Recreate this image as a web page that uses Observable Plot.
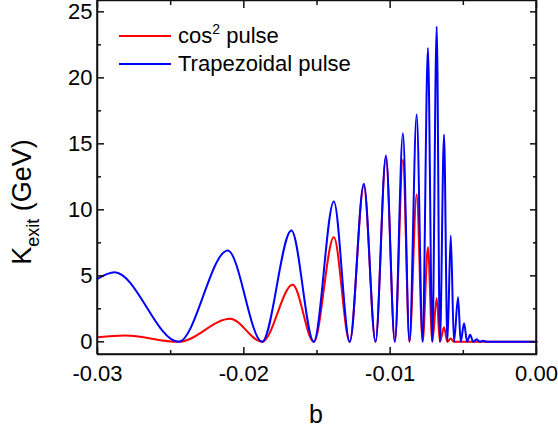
<!DOCTYPE html>
<html><head><meta charset="utf-8">
<script src="https://cdn.jsdelivr.net/npm/d3@7"></script>
<script src="https://cdn.jsdelivr.net/npm/@observablehq/plot@0.6"></script>
<style>
html,body{margin:0;padding:0;background:#fff}
svg{display:block}
#wrap{position:relative;width:558px;height:431px;font-family:'Liberation Sans',Arial,Helvetica,sans-serif;color:#000}
.ov{position:absolute;white-space:nowrap;line-height:1}
.sw{position:absolute;height:2px;width:52px;left:119px}
</style>
</head><body><div id="wrap"><div id="chart"></div></div>
<script>
// Trapezoidal pulse (blue): b values and K_exit (GeV), read at peaks and minima
const bBlue = [-0.03, -0.02884, -0.02446, -0.02110, -0.01875, -0.01675, -0.01522, -0.01385, -0.01276, -0.01180, -0.01100, -0.01029, -0.00968, -0.00913, -0.00868, -0.00819, -0.00778, -0.00742, -0.00712, -0.00682, -0.00660, -0.00632, -0.00609, -0.00586, -0.00564, -0.00536, -0.00518, -0.00495, -0.00474, -0.00454, -0.00432, -0.00408, -0.00388, -0.00367, -0.0034, 0];
const kBlue = [4.77, 5.27, 0, 6.92, 0, 8.43, 0, 10.63, 0, 11.97, 0, 14.11, 0, 15.8, 0, 17.22, 0, 22.27, 0, 23.89, 0, 15.7, 0, 8.05, 0, 3.38, 0, 1.41, 0, 0.53, 0, 0.2, 0, 0.08, 0, 0];
// cos^2 pulse (red)
const bRed = [-0.03, -0.02810, -0.02446, -0.02092, -0.01875, -0.01666, -0.01522, -0.01385, -0.01276, -0.01180, -0.01100, -0.01029, -0.00968, -0.00913, -0.00868, -0.00819, -0.00778, -0.00742, -0.00712, -0.00682, -0.00660, -0.00632, -0.00609, -0.00586, -0.00564, 0];
const kRed = [0.35, 0.48, 0, 1.74, 0, 4.32, 0, 7.92, 0, 11.8, 0, 13.95, 0, 13.79, 0, 11.16, 0, 7.17, 0, 3.33, 0, 1.1, 0, 0.25, 0, 0];

const xTicks = [-0.03, -0.02, -0.01, 0];
const xTickLabels = ["-0.03", "-0.02", "-0.01", "0.00"];
const xMinor = [-0.025, -0.015, -0.005];
const yTicks = [0, 5, 10, 15, 20, 25];
const yTickLabels = ["0", "5", "10", "15", "20", "25"];
const yMinor = [2.5, 7.5, 12.5, 17.5, 22.5];
const xEdges = [-0.03, 0];
const yEdges = [-0.96, 25.86];
const seriesNames = ["cos", "Trapezoidal pulse"];
const colors = ["#ff0000", "#0000ff"];

const red = bRed.map((b, i) => ({b, k: kRed[i]}));
const blue = bBlue.map((b, i) => ({b, k: kBlue[i]}));
const font = "'Liberation Sans', Arial, Helvetica, sans-serif";
const ink = "#111111";

const tickOpts = {strokeWidth: 1.5, fill: "none", label: null, stroke: ink};
const plot = Plot.plot({
  width: 558, height: 431,
  marginLeft: 97, marginRight: 22, marginTop: 0, marginBottom: 77,
  style: {fontFamily: font, fontSize: "22px", color: "black", background: "white", overflow: "visible"},
  x: {domain: xEdges},
  y: {domain: yEdges},
  marks: [
    Plot.line(red, {x: "b", y: "k", stroke: colors[0], strokeWidth: 2, curve: "monotone-x"}),
    Plot.line(blue, {x: "b", y: "k", stroke: colors[1], strokeWidth: 2, curve: "monotone-x"}),
    Plot.frame({stroke: ink, strokeWidth: 1.5}),
    // frame edges also drawn as thin filled rectangles
    Plot.rect(xEdges, {x1: d => d, x2: d => d, y1: () => yEdges[0], y2: () => yEdges[1],
      insetLeft: -0.75, insetRight: -0.75, fill: ink}),
    Plot.rect(yEdges, {y1: d => d, y2: d => d, x1: () => xEdges[0], x2: () => xEdges[1],
      insetTop: -0.75, insetBottom: -0.75, fill: ink}),
    Plot.axisX(xTicks, {anchor: "bottom", tickSize: -7, ...tickOpts}),
    Plot.axisX(xTicks, {anchor: "top", tickSize: -7, ...tickOpts}),
    Plot.axisX(xMinor, {anchor: "bottom", tickSize: -4, ...tickOpts}),
    Plot.axisX(xMinor, {anchor: "top", tickSize: -4, ...tickOpts}),
    Plot.axisY(yTicks, {anchor: "left", tickSize: -7, ...tickOpts}),
    Plot.axisY(yTicks, {anchor: "right", tickSize: -7, ...tickOpts}),
    Plot.axisY(yMinor, {anchor: "left", tickSize: -4, ...tickOpts}),
    Plot.axisY(yMinor, {anchor: "right", tickSize: -4, ...tickOpts}),
    Plot.axisX(xTicks, {anchor: "bottom", tickSize: 0, tickPadding: 11, label: null, fill: "black",
      tickFormat: d => xTickLabels[xTicks.indexOf(d)]}),
    Plot.axisY(yTicks, {anchor: "left", tickSize: 0, tickPadding: 5, label: null, fill: "black",
      tickFormat: d => yTickLabels[yTicks.indexOf(d)]})
  ]
});
document.getElementById("chart").appendChild(plot);

// HTML overlays: axis titles and legend
const wrap = d3.select("#wrap");
wrap.append("div").attr("class", "ov")
  .style("left", "266px").style("top", "402px").style("width", "100px").style("text-align", "center")
  .style("font-size", "25px").text("b");
const yl = wrap.append("div").attr("class", "ov")
  .style("left", "9px").style("top", "302px").style("width", "200px").style("text-align", "center")
  .style("font-size", "27px").style("transform-origin", "0 0").style("transform", "rotate(-90deg)");
yl.append("span").text("K");
yl.append("span").style("font-size", "18px").style("position", "relative").style("top", "8px").text("exit");
yl.append("span").text(" (GeV)");

const leg = [{y: 36, c: colors[0], top: 25.4}, {y: 63.5, c: colors[1], top: 52.9}];
leg.forEach((L, i) => {
  wrap.append("div").attr("class", "sw").style("top", (L.y - 1) + "px").style("background", L.c);
  const t = wrap.append("div").attr("class", "ov")
    .style("left", "178px").style("top", L.top + "px").style("font-size", "22px");
  if (i === 0) {
    t.append("span").text(seriesNames[0]);
    t.append("span").style("font-size", "14px").style("position", "relative").style("top", "-9px").text("2");
    t.append("span").text(" pulse");
  } else {
    t.text(seriesNames[1]);
  }
});
</script>
</body></html>
